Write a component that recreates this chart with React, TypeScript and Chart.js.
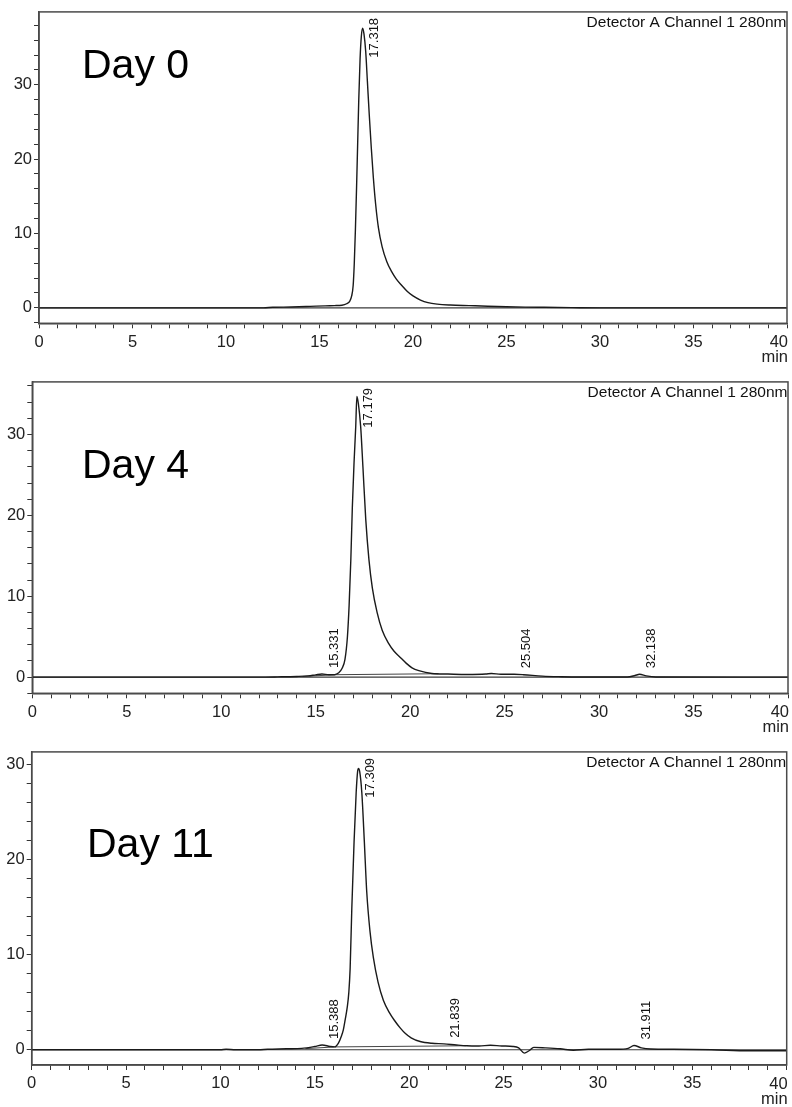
import { useEffect, useRef } from 'react';
import { Chart, registerables } from 'chart.js';

Chart.register(...registerables);

const FONT = '"Liberation Sans", Arial, Helvetica, sans-serif';

// ---------- data ----------
const xTickLabels = ['0', '5', '10', '15', '20', '25', '30', '35', '40'];
const yTickLabels = ['0', '10', '20', '30'];
const axisUnit = 'min';
const detectorText = 'Detector A Channel 1 280nm';
const panelTitles = ['Day 0', 'Day 4', 'Day 11'];

// Day 0
const day0Time = [0, 12, 12.5, 13.5, 14.5, 15.3, 15.8, 16.2, 16.45, 16.62, 16.72, 16.8, 16.86, 16.92, 16.98, 17.04, 17.1, 17.17, 17.24, 17.31, 17.38, 17.47, 17.56, 17.66, 17.77, 17.88, 18.0, 18.15, 18.35, 18.6, 18.85, 19.1, 19.4, 19.7, 20.0, 20.4, 20.8, 21.3, 22.0, 23.0, 24.0, 25.0, 26.0, 27.0, 28.5, 30, 40];
const day0Signal = [0, 0, 0.07, 0.12, 0.2, 0.27, 0.3, 0.35, 0.55, 0.9, 1.6, 3, 6, 10.5, 16, 22, 28, 33.5, 36.6, 37.6, 36.8, 34.5, 30.5, 26, 21.5, 17.5, 14, 10.8, 8.2, 6.2, 4.9, 3.9, 3.0, 2.2, 1.6, 1.05, 0.7, 0.5, 0.38, 0.3, 0.22, 0.15, 0.1, 0.07, 0.03, 0, 0];
const day0BaseTime: number[] = [];
const day0BaseValue: number[] = [];
const day0Peaks = [17.318];

// Day 4
const day4Time = [0, 12, 13, 14, 14.6, 15.0, 15.33, 15.7, 16.0, 16.2, 16.4, 16.55, 16.68, 16.77, 16.86, 16.94, 17.03, 17.12, 17.18, 17.26, 17.38, 17.5, 17.65, 17.82, 18.0, 18.25, 18.52, 18.85, 19.15, 19.45, 19.8, 20.1, 20.46, 21.15, 22, 23, 24, 24.3, 24.8, 25.5, 26, 27, 28, 29, 31.5, 31.9, 32.14, 32.5, 33, 40];
const day4Signal = [0, 0, 0.03, 0.08, 0.15, 0.28, 0.38, 0.3, 0.3, 0.5, 1.1, 2.2, 5, 8.9, 14.5, 21, 26.5, 31, 34.7, 33.8, 31, 26, 19.5, 14.5, 11, 8, 5.8, 4.2, 3.2, 2.5, 1.7, 1.15, 0.8, 0.45, 0.38, 0.33, 0.38, 0.45, 0.35, 0.35, 0.3, 0.12, 0.05, 0.02, 0.02, 0.2, 0.35, 0.15, 0.02, 0];
const day4BaseTime = [14.3, 16.1, 21.5];
const day4BaseValue = [0.08, 0.3, 0.42];
const day4Peaks = [15.331, 17.179, 25.504, 32.138];

// Day 11
const day11Time = [0, 10, 10.3, 10.8, 12, 12.5, 13.5, 14.3, 15, 15.39, 15.8, 16.05, 16.25, 16.4, 16.51, 16.62, 16.72, 16.8, 16.87, 16.96, 17.08, 17.19, 17.27, 17.31, 17.38, 17.49, 17.62, 17.75, 17.92, 18.1, 18.35, 18.63, 18.95, 19.25, 19.52, 19.8, 20.1, 20.58, 21.2, 21.84, 22.5, 23.05, 23.7, 24.3, 24.9, 25.5, 25.8, 26.1, 26.35, 26.6, 27.2, 28, 28.7, 29.5, 31, 31.6, 31.91, 32.3, 32.8, 34, 36, 38, 40];
const day11Signal = [0, 0, 0.05, 0, 0, 0.05, 0.1, 0.15, 0.35, 0.5, 0.35, 0.3, 0.7, 1.4, 2.1, 3.3, 4.5, 6, 8.5, 14.9, 21.9, 27, 29.3, 29.55, 29.2, 27, 22, 16.6, 12.5, 9.7, 7.1, 5.2, 3.9, 3.0, 2.3, 1.7, 1.25, 0.87, 0.68, 0.62, 0.5, 0.42, 0.4, 0.48, 0.4, 0.35, 0.2, -0.35, -0.1, 0.25, 0.2, 0.1, -0.05, 0.05, 0.05, 0.15, 0.45, 0.2, 0.08, 0.05, 0, -0.1, -0.1];
const day11BaseTime = [14.5, 16.05, 23];
const day11BaseValue = [0.12, 0.3, 0.42];
const day11Peaks = [15.388, 17.309, 21.839, 31.911];

const zeroTime = [0, 40];
const zeroValue = [0, 0];

// ---------- layout (pixels) ----------
const panels = [
  {
    title: panelTitles[0], time: day0Time, signal: day0Signal, baseT: day0BaseTime, baseV: day0BaseValue, peaks: day0Peaks,
    yMin: -2.08, yMax: 39.8, top: 0, height: 370, left: 39, right: 787, areaTop: 9.3, areaBottom: 323.3,
    titleX: 82, titleY: 78,
  },
  {
    title: panelTitles[1], time: day4Time, signal: day4Signal, baseT: day4BaseTime, baseV: day4BaseValue, peaks: day4Peaks,
    yMin: -2.0, yMax: 36.5, top: 370, height: 370, left: 32.3, right: 790, areaTop: 5, areaBottom: 323.3,
    titleX: 82, titleY: 108,
  },
  {
    title: panelTitles[2], time: day11Time, signal: day11Signal, baseT: day11BaseTime, baseV: day11BaseValue, peaks: day11Peaks,
    yMin: -1.6, yMax: 31.3, top: 740, height: 367, left: 31.7, right: 786.7, areaTop: 9.3, areaBottom: 325,
    titleX: 87, titleY: 117,
  },
];

const toPts = (t: number[], v: number[]) => t.map((x, i) => ({ x, y: v[i] }));

const extrasPlugin = {
  id: 'extras',
  afterDatasetsDraw(chart: any, _args: any, opts: any) {
    const { ctx, chartArea: a, scales } = chart;
    const xs = scales.x;
    const ys = scales.y;
    ctx.save();
    // frame
    ctx.strokeStyle = '#4a4a4a';
    ctx.lineWidth = 1.5;
    ctx.strokeRect(a.left, a.top, a.right - a.left, a.bottom - a.top);
    // detector text
    ctx.fillStyle = '#111';
    ctx.font = `15.5px ${FONT}`;
    ctx.textAlign = 'right';
    ctx.textBaseline = 'alphabetic';
    ctx.fillText(detectorText, a.right - 0.5, a.top + 15.5);
    // title
    ctx.font = `41px ${FONT}`;
    ctx.textAlign = 'left';
    ctx.fillStyle = '#000';
    ctx.fillText(opts.title, opts.titleX, opts.titleY);
    // last x label and unit
    ctx.font = `16.5px ${FONT}`;
    ctx.textAlign = 'right';
    ctx.fillStyle = '#222';
    ctx.fillText(xTickLabels[xTickLabels.length - 1], a.right + 1, a.bottom + 24);
    ctx.fillText(axisUnit, a.right + 1, a.bottom + 39);
    // peak labels
    ctx.font = `13px ${FONT}`;
    ctx.fillStyle = '#111';
    const t: number[] = opts.time;
    const s: number[] = opts.signal;
    for (const pk of opts.peaks as number[]) {
      let apex = -Infinity;
      for (let i = 0; i < t.length; i++) {
        if (Math.abs(t[i] - pk) <= 0.25 && s[i] > apex) apex = s[i];
      }
      const px = xs.getPixelForValue(pk);
      const apy = ys.getPixelForValue(apex);
      const text = pk.toFixed(3);
      const w = ctx.measureText(text).width;
      let start = apy - 6;
      if (start - w < a.top + 6) start = a.top + 6 + w;
      ctx.save();
      ctx.translate(px + 12, start);
      ctx.rotate(-Math.PI / 2);
      ctx.textAlign = 'left';
      ctx.textBaseline = 'middle';
      ctx.fillText(text, 0, 0);
      ctx.restore();
    }
    ctx.restore();
  },
};

function Panel({ p }: { p: (typeof panels)[number] }) {
  const ref = useRef<HTMLCanvasElement | null>(null);
  useEffect(() => {
    if (!ref.current) return;
    const chart = new Chart(ref.current, {
      type: 'line',
      data: {
        datasets: [
          {
            data: toPts(p.time, p.signal),
            borderColor: '#1a1a1a',
            borderWidth: 1.4,
            pointRadius: 0,
            cubicInterpolationMode: 'monotone',
          },
          {
            data: toPts(p.baseT, p.baseV),
            borderColor: '#444',
            borderWidth: 1,
            pointRadius: 0,
          },
          {
            data: toPts(zeroTime, zeroValue),
            borderColor: '#3a3a3a',
            borderWidth: 1.1,
            pointRadius: 0,
          },
        ],
      },
      options: {
        animation: false,
        responsive: false,
        devicePixelRatio: 1,
        layout: { padding: { left: 0, right: 792 - p.right, top: p.areaTop, bottom: 0 } },
        plugins: {
          legend: { display: false },
          tooltip: { enabled: false },
          extras: { title: p.title, titleX: p.titleX, titleY: p.titleY, peaks: p.peaks, time: p.time, signal: p.signal },
        } as any,
        scales: {
          x: {
            type: 'linear',
            min: 0,
            max: 40,
            afterFit: (sc: any) => { sc.height = p.height - p.areaBottom; },
            grid: { display: true, drawOnChartArea: false, drawTicks: true, tickLength: 5, tickColor: '#333', tickWidth: 1 },
            border: { display: true, color: '#4a4a4a', width: 1.5 },
            ticks: {
              stepSize: 1,
              autoSkip: false,
              maxRotation: 0,
              includeBounds: false,
              padding: 4,
              color: '#222',
              font: { family: FONT, size: 16.5 },
              callback: (v: any) => {
                const n = Math.round(Number(v));
                if (n % 5 !== 0 || n === 40) return '';
                return xTickLabels[n / 5];
              },
            },
          },
          y: {
            type: 'linear',
            min: p.yMin,
            max: p.yMax,
            afterFit: (sc: any) => { sc.width = p.left; },
            grid: { display: true, drawOnChartArea: false, drawTicks: true, tickLength: 5, tickColor: '#333', tickWidth: 1 },
            border: { display: true, color: '#4a4a4a', width: 1.5 },
            ticks: {
              stepSize: 2,
              autoSkip: false,
              includeBounds: false,
              padding: 2,
              color: '#222',
              font: { family: FONT, size: 16.5 },
              callback: (v: any) => {
                const n = Math.round(Number(v));
                if (n % 10 !== 0 || n < 0) return '';
                return yTickLabels[n / 10] ?? '';
              },
            },
          },
        },
      },
      plugins: [extrasPlugin],
    } as any);
    return () => chart.destroy();
  }, [p]);
  return (
    <canvas
      ref={ref}
      width={792}
      height={p.height}
      style={{ position: 'absolute', left: 0, top: p.top, width: 792, height: p.height, display: 'block' }}
    />
  );
}

export default function App() {
  return (
    <div style={{ position: 'absolute', left: 0, top: 0, width: 792, height: 1107, background: '#fff' }}>
      {panels.map((p, i) => (
        <Panel key={i} p={p} />
      ))}
    </div>
  );
}
